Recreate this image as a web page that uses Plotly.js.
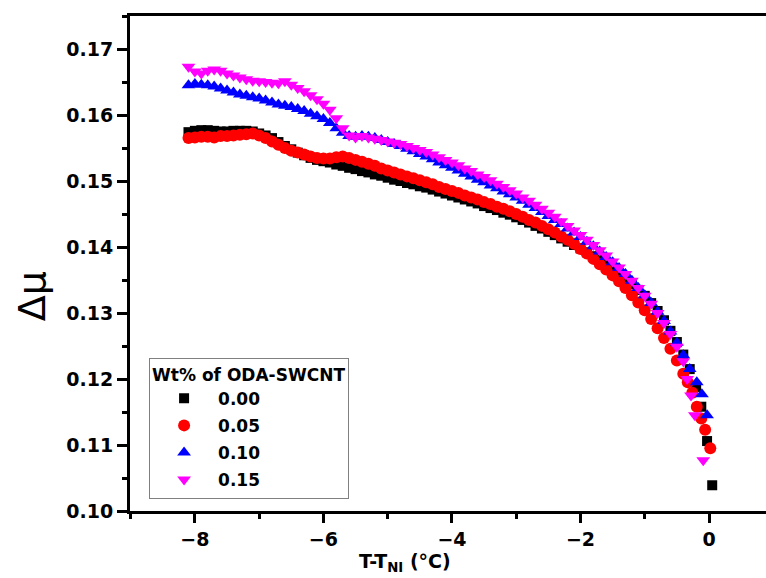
<!DOCTYPE html>
<html>
<head>
<meta charset="utf-8">
<script src="https://cdn.plot.ly/plotly-3.0.1.min.js"></script>
<style>html,body{margin:0;padding:0;background:#fff;}#chart{width:766px;height:578px;}</style>
</head>
<body>
<div id="chart"></div>
<script>
// Common temperature grid (T - T_NI, °C)
const xBase = [-8.1,-8.0,-7.9,-7.8,-7.7,-7.6,-7.5,-7.4,-7.3,-7.2,-7.1,-7.0,-6.9,-6.8,-6.7,-6.6,-6.5,-6.4,-6.3,-6.2,-6.1,-6.0,
  -5.9,-5.8,-5.7,-5.6,-5.5,-5.4,-5.3,-5.2,-5.1,-5.0,-4.9,-4.8,-4.7,-4.6,-4.5,-4.4,-4.3,-4.2,-4.1,-4.0,
  -3.9,-3.8,-3.7,-3.6,-3.5,-3.4,-3.3,-3.2,-3.1,-3.0,-2.9,-2.8,-2.7,-2.6,-2.5,-2.4,-2.3,-2.2,-2.1,-2.0,
  -1.9,-1.8,-1.7,-1.6,-1.5,-1.4,-1.3,-1.2,-1.1,-1.0,-0.9,-0.8,-0.7,-0.6,-0.5,-0.4];

// Series names (legend labels)
const seriesNames = ["0.00", "0.05", "0.10", "0.15"];

// Wt% 0.00
const y000 = [0.1574,0.1576,0.1577,0.1577,0.1576,0.1575,0.1575,0.1576,0.1576,0.1576,0.1575,0.1572,0.1569,0.1565,0.1559,0.1553,0.1548,0.1543,0.1539,0.1535,0.1532,0.1530,
  0.1528,0.1525,0.1523,0.1520,0.1518,0.1515,0.1513,0.1510,0.1508,0.1505,0.1502,0.1500,0.1497,0.1495,0.1492,0.1490,0.1487,0.1484,0.1481,0.1478,
  0.1475,0.1472,0.1469,0.1466,0.1462,0.1459,0.1456,0.1452,0.1449,0.1445,0.1441,0.1437,0.1432,0.1428,0.1423,0.1418,0.1413,0.1408,0.1403,0.1398,
  0.1392,0.1386,0.1380,0.1374,0.1367,0.1360,0.1352,0.1344,0.1335,0.1326,0.1315,0.1303,0.1289,0.1273,0.1256,0.1237];
const x000tail = [-0.3,-0.2,-0.12,-0.03,0.05];
const y000tail = [0.1215,0.1188,0.1158,0.1106,0.1039];

// Wt% 0.05
const y005 = [0.1565,0.1566,0.1567,0.1567,0.1566,0.1568,0.1568,0.1569,0.1570,0.1571,0.1572,0.1569,0.1565,0.1560,0.1555,0.1550,0.1546,0.1543,0.1540,0.1537,0.1535,0.1534,
  0.1534,0.1536,0.1537,0.1535,0.1532,0.1529,0.1526,0.1523,0.1519,0.1516,0.1513,0.1510,0.1507,0.1504,0.1501,0.1498,0.1495,0.1491,0.1488,0.1485,
  0.1482,0.1478,0.1475,0.1472,0.1468,0.1465,0.1461,0.1458,0.1454,0.1450,0.1446,0.1441,0.1437,0.1432,0.1427,0.1422,0.1416,0.1411,0.1405,0.1397,
  0.1390,0.1382,0.1374,0.1366,0.1357,0.1348,0.1338,0.1327,0.1316,0.1304,0.1291,0.1277,0.1262,0.1246,0.1228,0.1208];
const x005tail = [-0.33,-0.26,-0.19,-0.12,-0.06,0.02];
const y005tail = [0.1195,0.1179,0.1158,0.1140,0.1123,0.1095];

// Wt% 0.10
const y010 = [0.1645,0.1647,0.1646,0.1645,0.1643,0.1640,0.1637,0.1634,0.1631,0.1629,0.1627,0.1625,0.1622,0.1619,0.1616,0.1614,0.1612,0.1609,0.1606,0.1602,0.1598,0.1594,
  0.1588,0.1580,0.1573,0.1568,0.1567,0.1568,0.1567,0.1565,0.1562,0.1559,0.1556,0.1553,0.1549,0.1545,0.1541,0.1537,0.1533,0.1528,0.1524,0.1520,
  0.1516,0.1511,0.1507,0.1502,0.1498,0.1493,0.1489,0.1484,0.1480,0.1475,0.1470,0.1464,0.1459,0.1453,0.1447,0.1441,0.1435,0.1428,0.1422,0.1415,
  0.1408,0.1401,0.1393,0.1385,0.1377,0.1368,0.1359,0.1349,0.1338,0.1327,0.1315,0.1302,0.1288,0.1272,0.1255,0.1236];
const x010tail = [-0.3,-0.19,-0.11,-0.03];
const y010tail = [0.1215,0.1195,0.1177,0.1145];

// Wt% 0.15
const y015 = [0.1673,0.1666,0.1663,0.1667,0.1669,0.1667,0.1663,0.1660,0.1657,0.1654,0.1652,0.1651,0.1650,0.1649,0.1648,0.1651,0.1646,0.1641,0.1636,0.1630,0.1624,0.1617,
  0.1608,0.1595,0.1580,0.1569,0.1566,0.1568,0.1566,0.1564,0.1562,0.1560,0.1558,0.1556,0.1553,0.1550,0.1547,0.1544,0.1540,0.1536,0.1532,0.1528,
  0.1524,0.1519,0.1515,0.1510,0.1506,0.1501,0.1496,0.1491,0.1486,0.1481,0.1475,0.1470,0.1464,0.1458,0.1452,0.1446,0.1439,0.1432,0.1425,0.1418,
  0.1411,0.1403,0.1395,0.1387,0.1378,0.1369,0.1359,0.1349,0.1338,0.1326,0.1314,0.1300,0.1285,0.1268,0.1249,0.1227];
const x015tail = [-0.34,-0.28,-0.22,-0.09];
const y015tail = [0.1200,0.1175,0.1145,0.1077];

const FONT = "DejaVu Sans";

const traces = [
  {x: xBase.concat(x000tail), y: y000.concat(y000tail), name: seriesNames[0], legendgroup: "a", type: "scatter", mode: "markers",
   marker: {symbol: "square", size: 10, color: "#000000"}},
  {x: xBase.concat(x005tail), y: y005.concat(y005tail), name: seriesNames[1], legendgroup: "b", type: "scatter", mode: "markers",
   marker: {symbol: "circle", size: 12, color: "#ff0000"}},
  {x: xBase.concat(x010tail), y: y010.concat(y010tail), name: seriesNames[2], legendgroup: "c", type: "scatter", mode: "markers",
   marker: {symbol: "triangle-up", size: 12, color: "#0000ff"}},
  {x: xBase.concat(x015tail), y: y015.concat(y015tail), name: seriesNames[3], legendgroup: "d", type: "scatter", mode: "markers",
   marker: {symbol: "triangle-down", size: 12, color: "#ff00ff"}}
];

const layout = {
  width: 766, height: 578,
  margin: {l: 130, r: 0, t: 16, b: 67},
  paper_bgcolor: "#ffffff", plot_bgcolor: "#ffffff",
  showlegend: true,
  legend: {
    x: 0.03, y: 0.025, xanchor: "left", yanchor: "bottom",
    bordercolor: "#808080", borderwidth: 1, bgcolor: "#ffffff",
    itemwidth: 58, tracegroupgap: 2,
    font: {family: FONT, size: 17, color: "#000", weight: "bold"},
    title: {text: "Wt% of ODA-SWCNT", font: {family: FONT, size: 17, color: "#000", weight: "bold"}}
  },
  xaxis: {
    range: [-9.01, 0.887], showgrid: false, zeroline: false,
    showline: true, linecolor: "#000", linewidth: 3, mirror: true,
    ticks: "outside", ticklen: 9, tickwidth: 3, tickcolor: "#000",
    tickmode: "linear", tick0: 0, dtick: 2,
    minor: {ticks: "outside", ticklen: 5, tickwidth: 3, tickcolor: "#000", dtick: 1, tick0: 0, showgrid: false},
    tickfont: {family: FONT, size: 19, color: "#000", weight: "bold"}
  },
  yaxis: {
    range: [0.10, 0.175], showgrid: false, zeroline: false,
    showline: true, linecolor: "#000", linewidth: 3,
    ticks: "outside", ticklen: 10, tickwidth: 3, tickcolor: "#000",
    tickmode: "linear", tick0: 0.10, dtick: 0.01, tickformat: ".2f",
    minor: {ticks: "outside", ticklen: 5, tickwidth: 3, tickcolor: "#000", dtick: 0.005, tick0: 0.10, showgrid: false},
    tickfont: {family: FONT, size: 19, color: "#000", weight: "bold"}
  },
  annotations: [
    {text: "Δμ", xref: "paper", yref: "paper", x: -0.154, y: 0.434, xanchor: "center", yanchor: "middle",
     textangle: -90, showarrow: false, font: {family: FONT, size: 38, color: "#000"}},
    {text: "T-T<sub>NI</sub> (°C)", xref: "paper", yref: "paper", x: 0.432, y: -0.104, xanchor: "center", yanchor: "middle",
     showarrow: false, font: {family: FONT, size: 19, color: "#000", weight: "bold"}}
  ]
};

Plotly.newPlot("chart", traces, layout, {displayModeBar: false, staticPlot: true});
</script>
</body>
</html>
